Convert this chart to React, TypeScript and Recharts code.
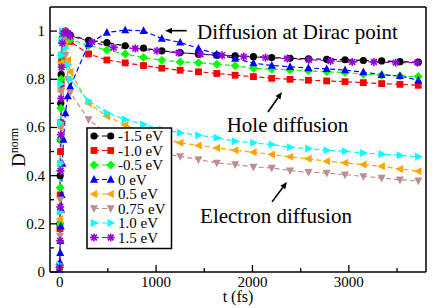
import React from 'react';
import { LineChart, Line, XAxis, YAxis, ReferenceLine, ReferenceDot, Label } from 'recharts';

// time grids (fs)
const tEarly = [0, 3, 6, 9, 12, 16, 20, 28, 40, 60, 85];
const tMain = [110, 300, 490, 680, 870, 1060, 1250, 1440, 1630, 1820, 2010, 2200, 2390, 2580, 2770, 2960, 3150, 3340, 3530, 3720];
const tStar = [110, 335, 560, 785, 1010, 1235, 1460, 1685, 1910, 2135, 2360, 2585, 2810, 3035, 3260, 3485, 3710];

// D^norm values per energy
const eM15Early = [0.03, 0.2, 0.4, 0.55, 0.7, 0.82, 0.9, 0.97, 0.995, 0.998, 0.99];
const eM15 = [0.983, 0.962, 0.952, 0.939, 0.929, 0.918, 0.911, 0.904, 0.9, 0.897, 0.894, 0.89, 0.887, 0.885, 0.883, 0.881, 0.878, 0.876, 0.873, 0.871];
const eM10Early = [0.02, 0.18, 0.32, 0.5, 0.62, 0.78, 0.88, 0.96, 0.99, 0.99, 0.975];
const eM10 = [0.957, 0.905, 0.88, 0.868, 0.857, 0.846, 0.8375, 0.831, 0.824, 0.817, 0.811, 0.804, 0.8, 0.796, 0.793, 0.79, 0.786, 0.782, 0.779, 0.775];
const eM05Early = [0.03, 0.2, 0.35, 0.55, 0.68, 0.8, 0.9, 0.97, 0.995, 0.99, 0.98];
const eM05 = [0.965, 0.94, 0.922, 0.905, 0.89, 0.879, 0.872, 0.869, 0.8625, 0.856, 0.846, 0.842, 0.839, 0.835, 0.831, 0.828, 0.821, 0.817, 0.814, 0.811];
const e0Early = [0.01, 0.04, 0.08, 0.13, 0.19, 0.26, 0.32, 0.45, 0.55, 0.66, 0.73];
const e0 = [0.77, 0.946, 0.994, 1.004, 1.001, 0.969, 0.953, 0.928, 0.904, 0.886, 0.867, 0.857, 0.852, 0.847, 0.843, 0.838, 0.83, 0.819, 0.814, 0.796];
const eP05Early = [0.02, 0.22, 0.42, 0.6, 0.75, 0.87, 0.95, 0.995, 1.0, 0.95, 0.88];
const eP05 = [0.83, 0.7, 0.647, 0.61, 0.58, 0.555, 0.536, 0.525, 0.515, 0.505, 0.497, 0.4875, 0.478, 0.47, 0.46, 0.453, 0.446, 0.439, 0.428, 0.418];
const eP075Early = [0.02, 0.15, 0.3, 0.45, 0.6, 0.75, 0.85, 0.95, 0.97, 0.9, 0.8];
const eP075 = [0.745, 0.633, 0.575, 0.535, 0.508, 0.492, 0.48, 0.467, 0.453, 0.446, 0.436, 0.432, 0.421, 0.414, 0.411, 0.404, 0.397, 0.39, 0.383, 0.379];
const eP10Early = [0.03, 0.25, 0.45, 0.62, 0.78, 0.9, 0.96, 1.0, 0.99, 0.93, 0.86];
const eP10 = [0.8, 0.71, 0.661, 0.633, 0.612, 0.592, 0.578, 0.568, 0.557, 0.543, 0.536, 0.529, 0.518, 0.5125, 0.505, 0.501, 0.494, 0.49, 0.485, 0.478];
const eP15Early = [0.02, 0.13, 0.27, 0.42, 0.57, 0.72, 0.85, 0.95, 0.99, 1.0, 0.99];
const eP15 = [0.98, 0.955, 0.932, 0.928, 0.918, 0.91, 0.904, 0.9, 0.894, 0.89, 0.886, 0.881, 0.876, 0.872, 0.872, 0.869, 0.869];

const xTicks = [0, 500, 1000, 1500, 2000, 2500, 3000, 3500];
const yTicks = [0, 0.1, 0.2, 0.3, 0.4, 0.5, 0.6, 0.7, 0.8, 0.9, 1.0];

const FONT = '"Liberation Serif", "DejaVu Serif", serif';

const build = (early: number[], main: number[], t: number[]) =>
  [...tEarly.map((x, i) => ({ t: x, d: early[i] })), ...t.map((x, i) => ({ t: x, d: main[i] }))];

const series = [
  { name: '-1.5 eV', color: '#000000', shape: 'circle', data: build(eM15Early, eM15, tMain) },
  { name: '-1.0 eV', color: '#ff0000', shape: 'square', data: build(eM10Early, eM10, tMain) },
  { name: '-0.5 eV', color: '#00ff00', shape: 'diamond', data: build(eM05Early, eM05, tMain) },
  { name: '0 eV', color: '#0000ff', shape: 'up', data: build(e0Early, e0, tMain) },
  { name: '0.5 eV', color: '#ffa500', shape: 'left', data: build(eP05Early, eP05, tMain) },
  { name: '0.75 eV', color: '#bc8f8f', shape: 'down', data: build(eP075Early, eP075, tMain) },
  { name: '1.0 eV', color: '#00ffff', shape: 'right', data: build(eP10Early, eP10, tMain) },
  { name: '1.5 eV', color: '#9400d3', shape: 'star', data: build(eP15Early, eP15, tStar) },
];

function Marker({ shape, color, cx, cy }: { shape: string; color: string; cx: number; cy: number }) {
  const s = 4;
  switch (shape) {
    case 'circle':
      return <circle cx={cx} cy={cy} r={3.6} fill={color} />;
    case 'square':
      return <rect x={cx - 3.4} y={cy - 3.4} width={6.8} height={6.8} fill={color} />;
    case 'diamond':
      return <polygon points={`${cx},${cy - 4.5} ${cx + 4.5},${cy} ${cx},${cy + 4.5} ${cx - 4.5},${cy}`} fill={color} />;
    case 'up':
      return <polygon points={`${cx},${cy - s - 0.5} ${cx + s},${cy + s - 0.8} ${cx - s},${cy + s - 0.8}`} fill={color} />;
    case 'down':
      return <polygon points={`${cx},${cy + s + 0.5} ${cx + s},${cy - s + 0.8} ${cx - s},${cy - s + 0.8}`} fill={color} />;
    case 'left':
      return <polygon points={`${cx - s - 0.5},${cy} ${cx + s - 0.8},${cy - s} ${cx + s - 0.8},${cy + s}`} fill={color} />;
    case 'right':
      return <polygon points={`${cx + s + 0.5},${cy} ${cx - s + 0.8},${cy - s} ${cx - s + 0.8},${cy + s}`} fill={color} />;
    default:
      return (
        <g stroke={color} strokeWidth={1.6}>
          <line x1={cx - 4} y1={cy} x2={cx + 4} y2={cy} />
          <line x1={cx} y1={cy - 4} x2={cx} y2={cy + 4} />
          <line x1={cx - 2.9} y1={cy - 2.9} x2={cx + 2.9} y2={cy + 2.9} />
          <line x1={cx - 2.9} y1={cy + 2.9} x2={cx + 2.9} y2={cy - 2.9} />
          <circle cx={cx} cy={cy} r={1.5} fill={color} stroke="none" />
        </g>
      );
  }
}

const txt = { fontFamily: FONT };

const XTick = (props: any) => {
  const { x, y, payload, side } = props;
  const major = payload.value % 1000 === 0;
  const len = major ? 7 : 4;
  const dir = side === 'bottom' ? -1 : 1;
  return (
    <g>
      <line x1={x} y1={y} x2={x} y2={y + dir * len} stroke="#000" strokeWidth={1.3} />
      {side === 'bottom' && major && (
        <text x={x} y={y + 15} textAnchor="middle" fontSize={15} style={txt} fill="#000">
          {payload.value}
        </text>
      )}
    </g>
  );
};

const YTick = (props: any) => {
  const { x, y, payload, side } = props;
  const major = Math.round(payload.value * 10) % 2 === 0;
  const len = major ? 7 : 4;
  const dir = side === 'left' ? 1 : -1;
  const v = payload.value;
  const lbl = v === 0 ? '0' : Math.abs(v - 1) < 1e-9 ? '1' : v.toFixed(1);
  return (
    <g>
      <line x1={x} y1={y} x2={x + dir * len} y2={y} stroke="#000" strokeWidth={1.3} />
      {side === 'left' && major && (
        <text x={x - 5} y={y + 5} textAnchor="end" fontSize={15} style={txt} fill="#000">
          {lbl}
        </text>
      )}
    </g>
  );
};

const Arrow = (props: any) => {
  const { x1, y1, x2, y2 } = props;
  const ang = Math.atan2(y2 - y1, x2 - x1);
  const L = 7;
  const W = 3;
  const bx = x2 - L * Math.cos(ang);
  const by = y2 - L * Math.sin(ang);
  const px = -Math.sin(ang) * W;
  const py = Math.cos(ang) * W;
  return (
    <g>
      <line x1={x1} y1={y1} x2={bx} y2={by} stroke="#000" strokeWidth={1.6} />
      <polygon points={`${x2},${y2} ${bx + px},${by + py} ${bx - px},${by - py}`} fill="#000" />
    </g>
  );
};

const YLabel = () => (
  <text transform="translate(25,167) rotate(-90)" fontSize={19} style={txt} fill="#000">
    D
    <tspan dy={-7} fontSize={12}>
      norm
    </tspan>
  </text>
);

function Legend() {
  const rowY = (i: number) => 9 + i * 14.5;
  return (
    <svg width={88} height={124} style={{ position: 'absolute', left: 86, top: 127 }}>
      <rect x={1} y={1} width={84.5} height={120.5} fill="#fff" stroke="#000" strokeWidth={1.5} />
      {series.map((s, i) => (
        <g key={s.name}>
          <line x1={8} y1={rowY(i)} x2={24.7} y2={rowY(i)} stroke={s.color} strokeWidth={1.2} strokeDasharray="5 3" />
          <Marker shape={s.shape} color={s.color} cx={8} cy={rowY(i)} />
          <Marker shape={s.shape} color={s.color} cx={24.7} cy={rowY(i)} />
          <text x={32} y={rowY(i) + 5} fontSize={15} style={txt} fill="#000">
            {s.name}
          </text>
        </g>
      ))}
    </svg>
  );
}

export default function App() {
  return (
    <div style={{ position: 'absolute', left: 0, top: 0, width: 435, height: 308, background: '#fff', fontFamily: FONT }}>
      <LineChart width={435} height={308} margin={{ top: 2, right: 4, left: 0, bottom: 0 }}>
        <XAxis
          type="number"
          dataKey="t"
          domain={[-100, 3800]}
          ticks={xTicks}
          interval={0}
          height={36}
          tickSize={0}
          tickMargin={0}
          tickLine={false}
          axisLine={{ stroke: '#000', strokeWidth: 1.5 }}
          tick={(p: any) => <XTick {...p} side="bottom" />}
          label={{ value: 't (fs)', position: 'insideBottom', offset: 6, fontSize: 16, fontFamily: FONT, fill: '#000' }}
        />
        <XAxis
          xAxisId="top"
          orientation="top"
          type="number"
          dataKey="t"
          domain={[-100, 3800]}
          ticks={xTicks}
          interval={0}
          height={5}
          tickSize={0}
          tickMargin={0}
          tickLine={false}
          axisLine={{ stroke: '#000', strokeWidth: 1.5 }}
          tick={(p: any) => <XTick {...p} side="top" />}
        />
        <YAxis
          type="number"
          domain={[0, 1.1]}
          ticks={yTicks}
          interval={0}
          width={50}
          tickSize={0}
          tickMargin={0}
          tickLine={false}
          axisLine={{ stroke: '#000', strokeWidth: 1.5 }}
          tick={(p: any) => <YTick {...p} side="left" />}
          label={<YLabel />}
        />
        <YAxis
          yAxisId="r"
          orientation="right"
          type="number"
          domain={[0, 1.1]}
          ticks={yTicks}
          interval={0}
          width={5}
          tickSize={0}
          tickMargin={0}
          tickLine={false}
          axisLine={{ stroke: '#000', strokeWidth: 1.5 }}
          tick={(p: any) => <YTick {...p} side="right" />}
        />
        {series.map((s) => (
          <Line
            key={s.name}
            data={s.data}
            dataKey="d"
            type="linear"
            stroke={s.color}
            strokeWidth={1.2}
            strokeDasharray="5 3"
            isAnimationActive={false}
            activeDot={false}
            dot={(p: any) => (
              <Marker key={`${s.name}-${p.index}`} shape={s.shape} color={s.color} cx={p.cx} cy={p.cy} />
            )}
          />
        ))}
        <ReferenceLine segment={[{ x: 1318, y: 1.0017 }, { x: 1093, y: 1.0017 }]} shape={Arrow} />
        <ReferenceLine segment={[{ x: 2161, y: 0.664 }, { x: 2306, y: 0.747 }]} shape={Arrow} />
        <ReferenceLine segment={[{ x: 2203, y: 0.291 }, { x: 2358, y: 0.374 }]} shape={Arrow} />
        <ReferenceDot x={2467} y={0.998} r={0} fill="none" stroke="none">
          <Label value="Diffusion at Dirac point" position="center" fontSize={21} fontFamily={FONT} fill="#000" />
        </ReferenceDot>
        <ReferenceDot x={2363} y={0.611} r={0} fill="none" stroke="none">
          <Label value="Hole diffusion" position="center" fontSize={21} fontFamily={FONT} fill="#000" />
        </ReferenceDot>
        <ReferenceDot x={2244} y={0.2356} r={0} fill="none" stroke="none">
          <Label value="Electron diffusion" position="center" fontSize={21} fontFamily={FONT} fill="#000" />
        </ReferenceDot>
      </LineChart>
      <Legend />
    </div>
  );
}
